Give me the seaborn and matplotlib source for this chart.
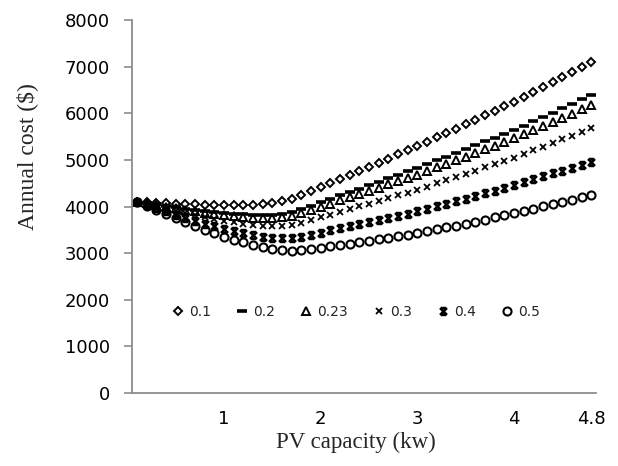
import numpy as np
import pandas as pd
import matplotlib
matplotlib.use("Agg")
import matplotlib.pyplot as plt
from matplotlib.path import Path
import seaborn as sns

# ---- data ----
pv_capacity = [0.1, 0.2, 0.3, 0.4, 0.5, 0.6, 0.7, 0.8, 0.9, 1.0,
               1.1, 1.2, 1.3, 1.4, 1.5, 1.6, 1.7, 1.8, 1.9, 2.0,
               2.1, 2.2, 2.3, 2.4, 2.5, 2.6, 2.7, 2.8, 2.9, 3.0,
               3.1, 3.2, 3.3, 3.4, 3.5, 3.6, 3.7, 3.8, 3.9, 4.0,
               4.1, 4.2, 4.3, 4.4, 4.5, 4.6, 4.7, 4.8]

cost_01 = [4100, 4090, 4080, 4070, 4060, 4052, 4045, 4040, 4035, 4032,
           4030, 4032, 4038, 4050, 4072, 4110, 4170, 4245, 4330, 4420,
           4507, 4594, 4681, 4768, 4855, 4942, 5029, 5116, 5203, 5290,
           5385, 5480, 5575, 5670, 5765, 5860, 5955, 6050, 6145, 6240,
           6347, 6454, 6561, 6668, 6775, 6882, 6989, 7096]
cost_02 = [4100, 4071, 4043, 4013, 3983, 3955, 3929, 3905, 3883, 3863,
           3845, 3832, 3822, 3819, 3825, 3848, 3890, 3949, 4019, 4094,
           4167, 4239, 4312, 4385, 4458, 4530, 4603, 4677, 4751, 4825,
           4906, 4988, 5069, 5150, 5231, 5314, 5396, 5479, 5561, 5644,
           5737, 5829, 5922, 6015, 6110, 6205, 6300, 6400]
cost_023 = [4100, 4066, 4031, 3995, 3959, 3926, 3894, 3865, 3837, 3812,
            3790, 3771, 3758, 3749, 3751, 3769, 3806, 3860, 3925, 3996,
            4064, 4133, 4201, 4270, 4338, 4407, 4475, 4545, 4615, 4686,
            4763, 4840, 4917, 4994, 5071, 5150, 5229, 5307, 5386, 5465,
            5553, 5642, 5730, 5819, 5906, 5994, 6083, 6171]
cost_03 = [4100, 4053, 4005, 3955, 3905, 3859, 3813, 3770, 3730, 3694,
           3660, 3631, 3607, 3588, 3579, 3585, 3610, 3653, 3708, 3768,
           3826, 3885, 3943, 4002, 4060, 4119, 4177, 4238, 4299, 4360,
           4428, 4495, 4563, 4630, 4698, 4768, 4838, 4908, 4978, 5048,
           5126, 5205, 5283, 5362, 5438, 5516, 5595, 5673]
cost_04 = [4100, 4034, 3968, 3898, 3828, 3762, 3696, 3635, 3578, 3524,
           3475, 3431, 3391, 3356, 3332, 3323, 3330, 3356, 3396, 3441,
           3486, 3530, 3574, 3618, 3663, 3707, 3751, 3799, 3847, 3895,
           3949, 4003, 4056, 4110, 4164, 4221, 4279, 4336, 4394, 4451,
           4516, 4580, 4644, 4708, 4769, 4833, 4897, 4962]
cost_05 = [4100, 4015, 3930, 3840, 3750, 3665, 3580, 3500, 3425, 3355,
           3290, 3230, 3175, 3125, 3085, 3060, 3050, 3060, 3085, 3115,
           3145, 3175, 3205, 3235, 3265, 3295, 3325, 3360, 3395, 3430,
           3470, 3510, 3550, 3590, 3630, 3675, 3720, 3765, 3810, 3855,
           3905, 3955, 4005, 4055, 4100, 4150, 4200, 4250]

series_labels = ["0.1", "0.2", "0.23", "0.3", "0.4", "0.5"]
series_values = [cost_01, cost_02, cost_023, cost_03, cost_04, cost_05]

x_ticks = [1, 2, 3, 4, 4.8]
x_tick_labels = ["1", "2", "3", "4", "4.8"]
y_ticks = [0, 1000, 2000, 3000, 4000, 5000, 6000, 7000, 8000]

# ---- style ----
sns.set_theme(style="white")
plt.rcParams["font.family"] = ["DejaVu Sans"]

bowtie = Path([(-1, -1), (1, 1), (-1, 1), (1, -1),
               (-0.75, 1), (0.75, 1), (-0.75, -1), (0.75, -1)],
              [Path.MOVETO, Path.LINETO, Path.MOVETO, Path.LINETO,
               Path.MOVETO, Path.LINETO, Path.MOVETO, Path.LINETO])

styles = [
    dict(marker="D", markersize=4.3, markeredgewidth=1.4, markerfacecolor="none"),
    dict(marker="_", markersize=7, markeredgewidth=2.6),
    dict(marker="^", markersize=5.6, markeredgewidth=1.4, markerfacecolor="none"),
    dict(marker="x", markersize=5, markeredgewidth=1.3),
    dict(marker=bowtie, markersize=5, markeredgewidth=1.8),
    dict(marker="o", markersize=5.8, markeredgewidth=1.5, markerfacecolor="none"),
]

fig = plt.figure(figsize=(6.18, 4.66), dpi=100)
ax = fig.add_axes([132 / 618, 1 - 393 / 466, (596 - 132) / 618, (393 - 20) / 466])

for lab, vals, st in zip(series_labels, series_values, styles):
    df = pd.DataFrame({"pv": pv_capacity, "cost": vals})
    sns.lineplot(data=df, x="pv", y="cost", ax=ax, linestyle="", color="black",
                 markeredgecolor="black", label=lab, **st)

ax.set_xlim(0.05, 4.85)
ax.set_ylim(0, 8000)
ax.set_xticks(x_ticks)
ax.set_xticklabels(x_tick_labels)
ax.set_yticks(y_ticks)
ax.set_xlabel("")
ax.set_ylabel("")

spine_color = "#8c8c8c"
for s in ["top", "right"]:
    ax.spines[s].set_visible(False)
for s in ["left", "bottom"]:
    ax.spines[s].set_color(spine_color)
    ax.spines[s].set_linewidth(1.3)

ax.tick_params(axis="y", which="major", left=True, length=6, width=1.2,
               color=spine_color, pad=10, labelsize=13, labelcolor="black")
ax.tick_params(axis="x", which="major", bottom=False, length=0, pad=12,
               labelsize=13, labelcolor="black")

fig.text(356 / 618, 1 - 432 / 466, "PV capacity (kw)", ha="center", va="top",
         fontsize=16.5, family="Liberation Serif")
fig.text(27 / 618, 1 - 157 / 466, "Annual cost ($)", ha="center", va="center",
         rotation=90, fontsize=17, family="Liberation Serif")

leg = ax.legend(loc="center left", bbox_to_anchor=(0.089, 0.217), ncol=6, frameon=False,
                fontsize=10, handlelength=0.7, handletextpad=0.45, columnspacing=1.88,
                borderpad=0, borderaxespad=0)

fig.savefig("out.png", dpi=100, facecolor="white")
